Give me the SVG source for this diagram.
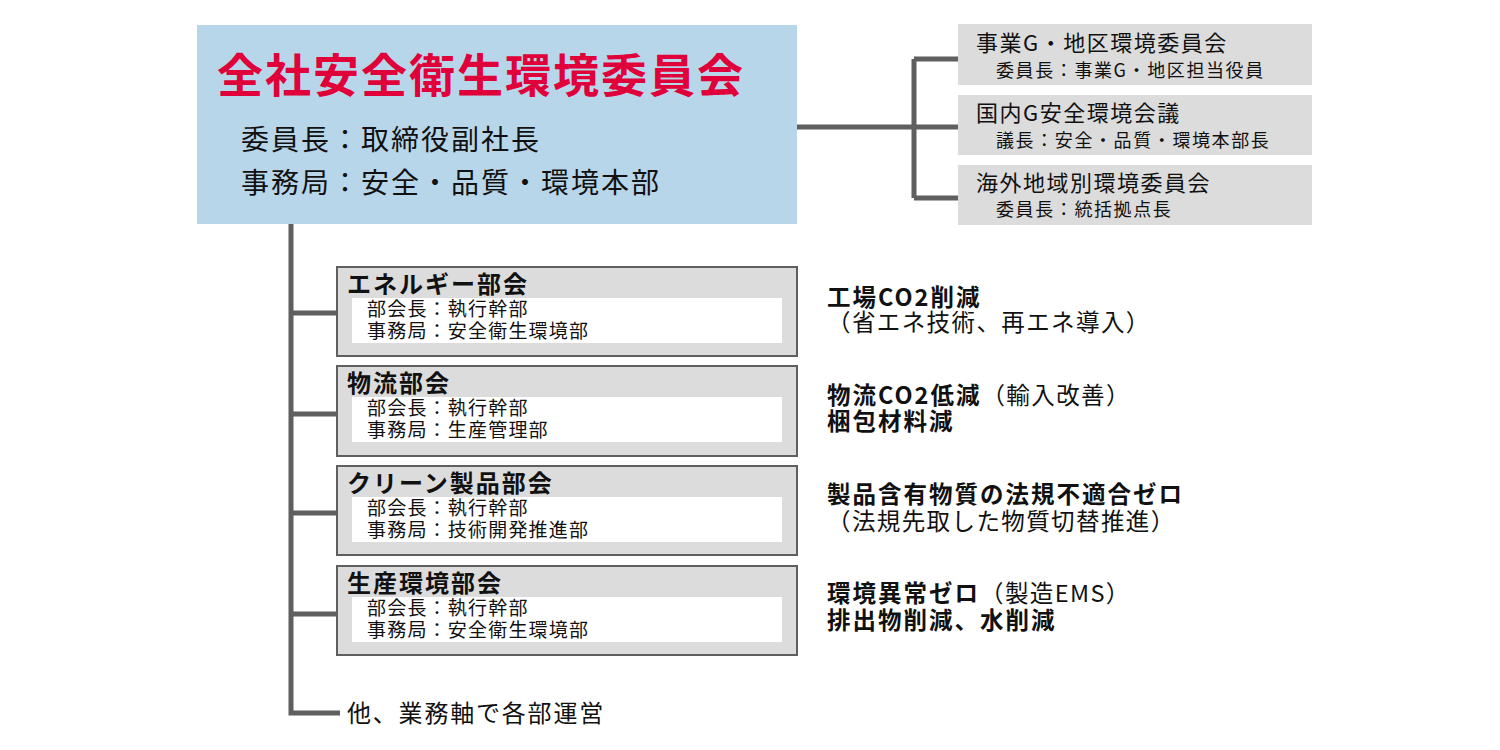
<svg xmlns="http://www.w3.org/2000/svg" width="1500" height="750" viewBox="0 0 1500 750">
<style>
text{font-family:"Noto Sans CJK JP","Noto Sans CJK SC",sans-serif;fill:#111}
.ttl{font-size:46px;font-weight:700;fill:#e0003a;letter-spacing:2px}
.main{font-size:28px;letter-spacing:2px}
.rt{font-size:22px;letter-spacing:1.5px}
.rs{font-size:18px;letter-spacing:1.6px}
.bt{font-size:24px;font-weight:700;letter-spacing:2px}
.bs{font-size:19px;letter-spacing:1.2px}
.goal{font-size:23.5px;letter-spacing:1.4px}
.b{font-weight:700;letter-spacing:2px}
.gbox{fill:#dcdcdc;stroke:#5f5f5f;stroke-width:2}
.inner{fill:#fff}
.rbox{fill:#dcdcdc}
.ln{stroke:#5f5f5f;stroke-width:5;fill:none}
</style>
<g id="connectors">
<path class="ln" d="M797 127H914M914 59V198M914 59H958M914 127H958M914 198H958"/>
<path class="ln" d="M291 224V713H340M291 313H337M291 414H337M291 513H337M291 614H337"/>
</g>
<g id="main">
<rect x="197" y="25" width="600" height="199" fill="#b8d6ea"/>
<text class="ttl" x="217" y="92">全社安全衛生環境委員会</text>
<text class="main" x="241" y="150">委員長：取締役副社長</text>
<text class="main" x="241" y="193">事務局：安全・品質・環境本部</text>
</g>
<g id="r1">
<rect class="rbox" x="958" y="24" width="354" height="61"/>
<text class="rt" x="976" y="51">事業G・地区環境委員会</text>
<text class="rs" x="996" y="77">委員長：事業G・地区担当役員</text>
</g>
<g id="r2">
<rect class="rbox" x="958" y="95" width="354" height="60"/>
<text class="rt" x="976" y="121">国内G安全環境会議</text>
<text class="rs" x="996" y="147">議長：安全・品質・環境本部長</text>
</g>
<g id="r3">
<rect class="rbox" x="958" y="165" width="354" height="60"/>
<text class="rt" x="976" y="191">海外地域別環境委員会</text>
<text class="rs" x="996" y="216">委員長：統括拠点長</text>
</g>
<g id="b1">
<rect class="gbox" x="337" y="267" width="460" height="89"/>
<rect class="inner" x="352" y="298" width="430" height="45"/>
<text class="bt" x="347" y="293">エネルギー部会</text>
<text class="bs" x="367" y="316">部会長：執行幹部</text>
<text class="bs" x="367" y="338">事務局：安全衛生環境部</text>
</g>
<g id="b2">
<rect class="gbox" x="337" y="366" width="460" height="90"/>
<rect class="inner" x="352" y="397" width="430" height="45"/>
<text class="bt" x="347" y="392">物流部会</text>
<text class="bs" x="367" y="415">部会長：執行幹部</text>
<text class="bs" x="367" y="437">事務局：生産管理部</text>
</g>
<g id="b3">
<rect class="gbox" x="337" y="466" width="460" height="89"/>
<rect class="inner" x="352" y="497" width="430" height="45"/>
<text class="bt" x="347" y="492">クリーン製品部会</text>
<text class="bs" x="367" y="515">部会長：執行幹部</text>
<text class="bs" x="367" y="537">事務局：技術開発推進部</text>
</g>
<g id="b4">
<rect class="gbox" x="337" y="566" width="460" height="89"/>
<rect class="inner" x="352" y="597" width="430" height="45"/>
<text class="bt" x="347" y="592">生産環境部会</text>
<text class="bs" x="367" y="615">部会長：執行幹部</text>
<text class="bs" x="367" y="637">事務局：安全衛生環境部</text>
</g>
<g id="goals">
<text class="goal b" x="827" y="306">工場CO2削減</text>
<text class="goal" x="827" y="331">（省エネ技術、再エネ導入）</text>
<text class="goal" x="827" y="404"><tspan class="b">物流CO2低減</tspan>（輸入改善）</text>
<text class="goal b" x="827" y="430">梱包材料減</text>
<text class="goal b" x="827" y="503">製品含有物質の法規不適合ゼロ</text>
<text class="goal" x="827" y="530">（法規先取した物質切替推進）</text>
<text class="goal" x="827" y="602"><tspan class="b">環境異常ゼロ</tspan>（製造EMS）</text>
<text class="goal b" x="827" y="629">排出物削減、水削減</text>
</g>
<g id="other">
<text x="347" y="722" style="font-size:24px;letter-spacing:1.8px">他、業務軸で各部運営</text>
</g>
</svg>
